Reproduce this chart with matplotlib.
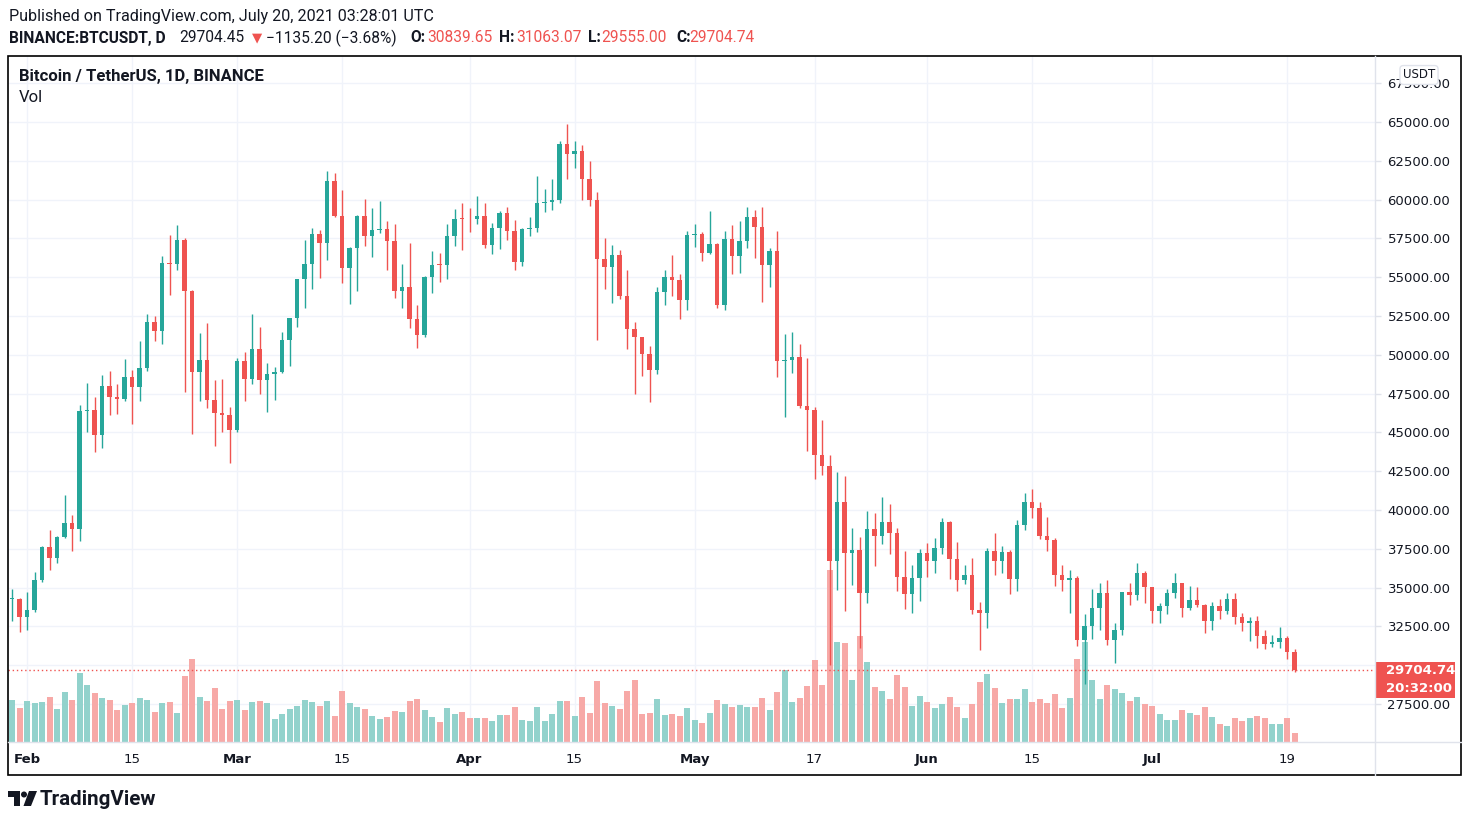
import matplotlib
matplotlib.use("Agg")
import matplotlib.pyplot as plt
import matplotlib.transforms as mtransforms
from matplotlib.patches import Rectangle, Polygon, Circle
from matplotlib.lines import Line2D
import pandas as pd

# =============================================================================
# Data: BINANCE:BTCUSDT daily, 30 Jan 2021 - 20 Jul 2021

dates = pd.date_range("2021-01-30", "2021-07-20", freq="D")
first_open = 34246.28

closes = [
    34262, 33092,
    33526, 35466, 37618, 36936, 38290, 39186, 38795, 46374, 46420, 44807,
    47969, 47287, 47153, 48577, 47911, 49133, 52119, 51552, 55906, 55841,
    57408, 54087, 48891, 49676, 47073, 46277, 46106, 45135,
    49587, 48440, 50349, 48374, 48751, 48882, 50971, 52375, 54884, 55851,
    57773, 57221, 61188, 58968, 55605, 56900, 58912, 57648, 58030, 58102,
    57351, 54083, 54340, 52303, 51293, 55025, 55817, 55777, 57635, 58746, 58740,
    58720, 58950, 57051, 58202, 59129, 57991, 55953, 58077, 58142, 59769,
    59860, 59964, 63575, 62959, 63159, 61334, 60006, 56150, 55633, 56425,
    53787, 51690, 51125, 50047, 49004, 54022, 55033, 54824, 53555, 57697,
    57797, 56578, 57169, 53200, 57436, 56393, 57314, 58862, 58240, 55816,
    56670, 49631, 49670, 49841, 46708, 46426, 43538, 42849, 36690, 40526,
    37252, 37449, 34655, 38796, 38324, 39241, 38529, 35664, 34584, 35641, 37253,
    36693, 37568, 39246, 36829, 35513, 35796, 33552, 33380, 37389, 36694,
    37313, 35551, 39020, 40516, 40144, 38349, 38092, 35819, 35483, 35600,
    31608, 32509, 33678, 34663, 31594, 32243, 34700, 34494, 35911, 35045,
    33504, 33786, 34669, 35286, 33690, 34220, 33863, 32875, 33815, 33502,
    34259, 33086, 32729, 32820, 31880, 31383, 31520, 31778, 30839.65, 29704.74,
]

highs = [
    34934, 34342,
    34717, 35984, 37662, 38708, 38310, 40955, 39700, 46794, 48200, 47310,
    48678, 48985, 48150, 49707, 49010, 50869, 52618, 52530, 56368, 57700,
    58352, 57533, 54183, 51374, 52041, 48370, 48424, 46638,
    49790, 50200, 52640, 51773, 49448, 49200, 51450, 52402, 54900, 57387,
    58150, 58058, 61844, 61683, 60633, 56938, 58981, 60040, 59469, 59880,
    58589, 58430, 55830, 57200, 53229, 55073, 56700, 56559, 58405, 59368, 59800,
    59490, 60200, 59791, 58493, 59251, 59495, 58655, 58153, 58894, 61500,
    60700, 61300, 63777, 64854, 63800, 63520, 62506, 60499, 57526, 57076,
    56757, 55460, 52130, 51166, 50567, 54357, 55466, 56428, 55195, 57963,
    58448, 57911, 59264, 57200, 58000, 58360, 58650, 59500, 59300, 59500,
    56862, 58000, 51367, 51483, 50700, 49800, 46643, 45800, 43546, 42451,
    42200, 38856, 38270, 39920, 39791, 40841, 40411, 38856, 37338, 36488, 37499,
    37894, 38225, 39476, 39289, 37925, 36480, 36900, 34068, 37534, 38491,
    37690, 37446, 39380, 41064, 41330, 40527, 39559, 38202, 36457, 36137,
    35750, 33298, 34881, 35298, 35500, 32730, 34749, 35297, 36600, 36100,
    35035, 33977, 34909, 35967, 35293, 35118, 35059, 33929, 34100, 34262,
    34666, 34678, 33340, 33114, 33185, 32249, 31936, 32435, 31899, 31063.07,
]

lows = [
    32825, 32171,
    32296, 33418, 35362, 36161, 36570, 38215, 37351, 37988, 45000, 43727,
    43994, 46125, 46202, 47014, 45550, 47003, 48947, 50901, 50710, 53863,
    55477, 47622, 44892, 47003, 46600, 44106, 45000, 43000,
    45042, 47047, 48100, 47500, 46300, 47070, 48850, 49274, 51789, 53005,
    54272, 54962, 56078, 58900, 54600, 53271, 54123, 57023, 56270, 57820,
    55450, 53650, 53000, 51700, 50427, 51150, 53950, 54691, 54902, 57000, 56769,
    57935, 58418, 56880, 56478, 56817, 57413, 55473, 55700, 57654, 57900,
    59220, 59350, 59770, 61301, 62020, 60000, 59580, 50931, 54221, 53329,
    53596, 50400, 47500, 48657, 46930, 48753, 53222, 53813, 52330, 52900,
    56970, 56035, 56478, 53000, 52900, 55200, 55250, 56900, 56235, 53400,
    54370, 48600, 46000, 48800, 46555, 43826, 42001, 42250, 30000, 34850,
    33488, 35200, 31111, 34031, 36419, 37800, 37134, 34779, 33632, 33379, 34153,
    35667, 35920, 37170, 35555, 34800, 35256, 33300, 31000, 32396, 35782,
    35936, 34600, 34757, 38730, 39506, 38116, 37365, 35129, 34803, 33336,
    31251, 28805, 31683, 32286, 31275, 30151, 31973, 33862, 34225, 34017,
    32711, 32699, 33326, 34357, 33125, 33532, 33777, 32077, 32261, 33004,
    33306, 32658, 32202, 31550, 31133, 31020, 31164, 31108, 30407, 29555.00,
]

# volume, thousand BTC
volumes = [
    82, 66,
    80, 76, 78, 88, 64, 96, 82, 133, 111, 94, 86, 82, 62, 72, 76, 86, 82, 59,
    76, 78, 57, 127, 160, 88, 80, 105, 64, 80,
    82, 62, 78, 80, 76, 45, 55, 64, 70, 82, 78, 70, 80, 51, 98, 76, 68, 64, 51,
    45, 49, 60, 59, 80, 84, 62, 49, 39, 66, 55, 59,
    47, 47, 47, 41, 53, 53, 68, 43, 41, 68, 41, 55, 80, 80, 51, 88, 57, 119, 76,
    70, 64, 99, 121, 55, 57, 84, 53, 55, 51, 66,
    43, 37, 57, 82, 74, 68, 72, 68, 68, 86, 62, 96, 140, 78, 86, 109, 158, 111,
    333, 193, 191, 121, 205, 154, 107, 99, 84, 129, 107, 70, 90,
    78, 66, 74, 88, 68, 47, 74, 117, 131, 105, 76, 84, 84, 103, 78, 84, 76, 92,
    66, 86, 160, 193, 121, 84, 111, 103, 94, 80, 88, 74,
    70, 55, 43, 43, 62, 57, 53, 68, 49, 35, 31, 47, 41, 47, 51, 47, 35, 35, 47, 18,
]

tick_prices = [27500 + 2500 * i for i in range(17)]
tick_dates = ["2021-02-01", "2021-02-15", "2021-03-01", "2021-03-15",
              "2021-04-01", "2021-04-15", "2021-05-01", "2021-05-17",
              "2021-06-01", "2021-06-15", "2021-07-01", "2021-07-19"]
tick_labels = ["Feb", "15", "Mar", "15", "Apr", "15", "May", "17",
               "Jun", "15", "Jul", "19"]
month_labels = ["Feb", "Mar", "Apr", "May", "Jun", "Jul"]

# =============================================================================
# Style

UP = "#26a69a"
DOWN = "#ef5350"
UP_VOL = "#92d2cc"
DOWN_VOL = "#f7a9a7"
TEXT = "#131722"
GRID = "#f0f3fa"
LINE = "#e0e3eb"

plt.rcParams["font.family"] = ["Roboto", "DejaVu Sans"]

W, H = 1470, 822
fig = plt.figure(figsize=(W / 100, H / 100), dpi=100)
fig.patch.set_facecolor("white")
px = mtransforms.Affine2D().scale(1 / W, -1 / H).translate(0, 1) + fig.transFigure

# plot area in pixels
p_left, p_right, p_top, p_bottom = 8, 1375, 56, 742
rect = [p_left / W, 1 - p_bottom / H, (p_right - p_left) / W, (p_bottom - p_top) / H]

axv = fig.add_axes(rect)
ax = fig.add_axes(rect, sharex=axv)
ax.patch.set_visible(False)

opens = [first_open] + closes[:-1]
is_up = [c >= o for o, c in zip(opens, closes)]
colors = [UP if u else DOWN for u in is_up]
vol_colors = [UP_VOL if u else DOWN_VOL for u in is_up]
xt = pd.to_datetime(tick_dates)

# grid (behind volume)
axv.hlines(tick_prices, 0, 1, transform=ax.get_yaxis_transform(),
           color=GRID, lw=1, zorder=0)
axv.vlines(xt, 0, 1, transform=axv.get_xaxis_transform(),
           color=GRID, lw=1, zorder=0)

# volume
axv.bar(dates, volumes, width=0.8, color=vol_colors, zorder=1)
axv.set_ylim(0, max(volumes) * 686 / 172)
axv.set_yticks([])
axv.tick_params(axis="x", length=0, labelbottom=False)
for s in axv.spines.values():
    s.set_visible(False)

# candles
body_low = [min(o, c) for o, c in zip(opens, closes)]
body_h = [max(abs(c - o), 60) for o, c in zip(opens, closes)]
ax.vlines(dates, lows, highs, colors=colors, lw=1, zorder=2)
ax.bar(dates, body_h, bottom=body_low, width=0.66, color=colors, zorder=3)

ax.axhline(closes[-1], color=DOWN, lw=1, ls=(0, (1, 2)), zorder=1)

ax.set_ylim(25053, 69252)
ax.set_xlim(dates[0] - pd.Timedelta(hours=12.8), dates[0] + pd.Timedelta(days=181.73))

# the price tag hides the tick label it sits on
price_labels = ["" if abs(p - closes[-1]) < 1200 else f"{p:.2f}" for p in tick_prices]
ax.yaxis.tick_right()
ax.set_yticks(tick_prices)
ax.set_yticklabels(price_labels, family="DejaVu Sans")
ax.tick_params(axis="y", length=4, width=1, color=LINE, pad=5,
               labelsize=9.5, labelcolor=TEXT)
ax.set_xticks(xt)
ax.set_xticklabels(tick_labels, family="DejaVu Sans")
ax.tick_params(axis="x", length=0, pad=8, labelsize=9.5, labelcolor=TEXT)
for lab in ax.get_xticklabels():
    if lab.get_text() in month_labels:
        lab.set_fontweight("bold")
for s in ax.spines.values():
    s.set_visible(False)

# separators and frame
fig.add_artist(Line2D([p_right, p_right], [p_top, 775], transform=px, color=LINE, lw=1))
fig.add_artist(Line2D([p_left, 1461], [p_bottom, p_bottom], transform=px, color=LINE, lw=1))
fig.add_artist(Rectangle((8, 56), 1453, 719, transform=px, fill=False, ec="black", lw=1.2))

# last price label
fig.add_artist(Rectangle((1375, 662), 80, 36, transform=px, fc=DOWN, ec="none"))
fig.text(1386 / W, 1 - 671 / H, f"{closes[-1]:.2f}", color="white", fontsize=9.5,
         fontweight="bold", family="DejaVu Sans", va="center")
fig.text(1386 / W, 1 - 688 / H, "20:32:00", color="white", fontsize=9.5,
         fontweight="bold", family="DejaVu Sans", va="center")

# currency box
fig.text(1419 / W, 1 - 75 / H, "USDT", color=TEXT, fontsize=8.5, ha="center",
         va="center", family="DejaVu Sans",
         bbox=dict(boxstyle="round,pad=0.25,rounding_size=0.3", fc="white", ec=LINE, lw=1))

# texts, sizes fitted to their width in the reference
renderer = fig.canvas.get_renderer()


def fit_size(s, w, size=10, **kw):
    t = fig.text(0, 0, s, fontsize=size, **kw)
    width = t.get_window_extent(renderer).width
    t.remove()
    return size * w / width


def put(x, y, s, size, **kw):
    return fig.text(x / W, 1 - y / H, s, fontsize=size, va="center", ha="left", **kw)


put(9, 16, "Published on TradingView.com, July 20, 2021 03:28:01 UTC",
    fit_size("Published on TradingView.com, July 20, 2021 03:28:01 UTC", 426), color=TEXT)

s2 = fit_size("29704.45", 65)
put(9, 38, "BINANCE:BTCUSDT, D", s2, color=TEXT, fontweight="bold")
put(179, 38, "29704.45", s2, color=TEXT)
put(252, 38, "\u25bc", s2 * 0.85, color=DOWN, family="DejaVu Sans")
put(266, 38, "\u22121135.20 (\u22123.68%)", s2, color=TEXT)
put(410, 38, "O:", s2, color=TEXT, fontweight="bold")
put(427, 38, f"{opens[-1]:.2f}", s2, color=DOWN)
put(499, 38, "H:", s2, color=TEXT, fontweight="bold")
put(516, 38, f"{highs[-1]:.2f}", s2, color=DOWN)
put(588, 38, "L:", s2, color=TEXT, fontweight="bold")
put(601, 38, f"{lows[-1]:.2f}", s2, color=DOWN)
put(676, 38, "C:", s2, color=TEXT, fontweight="bold")
put(689, 38, f"{closes[-1]:.2f}", s2, color=DOWN)

s3 = fit_size("Bitcoin / TetherUS, 1D, BINANCE", 244, fontweight="bold")
put(19, 76, "Bitcoin / TetherUS, 1D, BINANCE", s3, color=TEXT, fontweight="bold")
put(19, 97, "Vol", s3, color=TEXT)

# TradingView logo
fig.add_artist(Polygon([(8, 791), (20, 791), (20, 806), (14, 806), (14, 797), (8, 797)],
                       closed=True, transform=px, fc=TEXT, ec="none"))
fig.add_artist(Circle((24, 794.5), 3, transform=px, fc=TEXT, ec="none"))
fig.add_artist(Polygon([(29, 791), (37, 791), (31, 806), (23.5, 806)],
                       closed=True, transform=px, fc=TEXT, ec="none"))
put(40, 799, "TradingView", fit_size("TradingView", 117, fontweight="bold"),
    color=TEXT, fontweight="bold")

fig.savefig("out.png", dpi=100)
